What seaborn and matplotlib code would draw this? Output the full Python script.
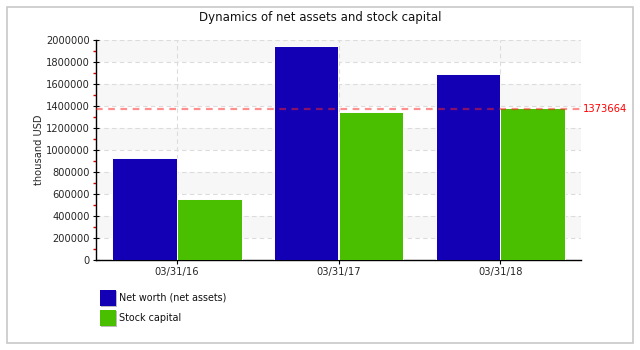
import matplotlib
matplotlib.use("Agg")
import matplotlib.pyplot as plt
import seaborn as sns
import pandas as pd
import numpy as np
from matplotlib.patches import Rectangle
from matplotlib.ticker import MultipleLocator

categories = ["03/31/16", "03/31/17", "03/31/18"]
net_worth = [927000, 1945000, 1691000]
stock_capital = [555000, 1343000, 1380000]
series_names = ["Net worth (net assets)", "Stock capital"]
reference_value = 1373664
title = "Dynamics of net assets and stock capital"
y_label = "thousand USD"

df = pd.DataFrame({
    "date": categories * 2,
    "value": net_worth + stock_capital,
    "series": [series_names[0]] * len(categories) + [series_names[1]] * len(categories),
})

sns.set_theme(style="white")
plt.rcParams["font.family"] = ["DejaVu Sans"]

fig = plt.figure(figsize=(6.4, 3.5), dpi=100)
fig.patch.set_facecolor("white")
fig.add_artist(Rectangle((7 / 640, 7 / 350), 626 / 640, 336 / 350, transform=fig.transFigure,
                         fill=False, edgecolor="#c8c8c8", linewidth=1.2))

ax = fig.add_axes([96 / 640, 90 / 350, 485 / 640, 220 / 350])
palette = {series_names[0]: "#1400b4", series_names[1]: "#49bf00"}
sns.barplot(data=df, x="date", y="value", hue="series", palette=palette, width=0.8,
            edgecolor="white", linewidth=0.7, saturation=1, ax=ax, legend=False, zorder=3)

ax.set_ylim(0, 2000000)
ax.set_xlim(-0.5, len(categories) - 0.5)
# alternating bands
for lo in range(200000, 2000000, 400000):
    ax.axhspan(lo, lo + 200000, color="#f7f7f7", zorder=0, linewidth=0)
ax.yaxis.set_major_locator(MultipleLocator(200000))
ax.yaxis.set_minor_locator(MultipleLocator(100000))
ax.grid(True, axis="both", which="major", linestyle=(0, (4, 3)), color="#dcdcdc", linewidth=0.8, zorder=1)
ax.set_axisbelow(True)

ax.axhline(reference_value, color="#ff2020", alpha=0.5, linestyle=(0, (3, 2.5)), linewidth=1.6, zorder=4)
ax.text(1.003, reference_value, f"{reference_value}", transform=ax.get_yaxis_transform(),
        color="#ff0000", fontsize=7.2, va="center", ha="left")

for s in ["top", "right"]:
    ax.spines[s].set_visible(False)
for s in ["left", "bottom"]:
    ax.spines[s].set_color("black")
    ax.spines[s].set_linewidth(1)

ax.tick_params(axis="y", which="major", direction="inout", length=5, width=0.8, color="black",
               labelsize=7.1, pad=2, left=True)
ax.tick_params(axis="y", which="minor", direction="out", length=2.5, width=1, color="#dd0000", left=True)
ax.tick_params(axis="x", which="major", direction="out", length=3, width=0.8, color="black",
               labelsize=7.1, pad=2, bottom=True)
ax.set_yticklabels([f"{int(v)}" for v in ax.get_yticks()])
ax.set_xlabel("")
ax.set_ylabel(y_label, fontsize=7.1, labelpad=1)

fig.text(0.5, 1 - 18 / 350, title, ha="center", va="center", fontsize=8.5, color="#111111")

# legend
for i, name in enumerate(series_names):
    y0 = 350 - 306 - i * 20
    fig.add_artist(Rectangle((101 / 640, (y0 - 1) / 350), 16 / 640, 16 / 350, transform=fig.transFigure,
                             facecolor="#bbbbbb", edgecolor="none"))
    fig.add_artist(Rectangle((100 / 640, y0 / 350), 16 / 640, 16 / 350, transform=fig.transFigure,
                             facecolor=palette[name], edgecolor="none"))
    fig.text(119 / 640, (y0 + 8) / 350, name, fontsize=6.9, va="center", ha="left", color="#111111")

fig.savefig("out.png", dpi=100)
